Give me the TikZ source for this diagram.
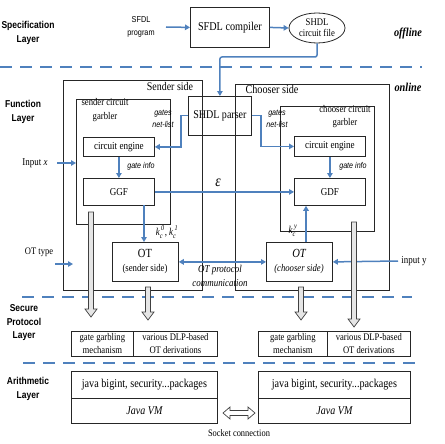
\documentclass[tikz,border=0pt]{standalone}
\usepackage{fontspec}
\usepackage{amsmath}
\setmainfont{Liberation Serif}[FakeStretch=0.85]
\setsansfont{Liberation Sans}[FakeStretch=0.85]
\usetikzlibrary{arrows.meta,shapes.geometric}
\definecolor{lblue}{RGB}{79,129,189}
\newcommand\fsz[2]{\fontsize{#1}{#2}\selectfont}
\newcommand\hdown[3]{\draw[harr] ({#1-2.5},#2) -- ({#1+2.5},#2) -- ({#1+2.5},{#3-8}) -- ({#1+6},{#3-8}) -- (#1,#3) -- ({#1-6},{#3-8}) -- ({#1-2.5},{#3-8}) -- cycle;}
\begin{document}
\begin{tikzpicture}[x=1pt,y=-1pt,
  box/.style={draw=black!85, line width=0.8pt, anchor=north west, inner sep=0pt},
  txt/.style={inner sep=0pt, align=center},
  layer/.style={txt, font=\sffamily\bfseries\fsz{10}{13.5}},
  barrow/.style={draw=lblue, line width=1.5pt, -{Triangle[length=5pt,width=5.5pt]}},
  bbarrow/.style={draw=lblue, line width=1.5pt, {Triangle[length=5pt,width=5.5pt]}-{Triangle[length=5pt,width=5.5pt]}},
  dline/.style={draw=lblue, line width=2pt, dash pattern=on 12pt off 8pt},
  harr/.style={draw=black!75, fill=black!10, line width=0.7pt},
  smlab/.style={txt, font=\sffamily\itshape\fsz{8.4}{11.5}}]
\useasboundingbox (0,0) rectangle (444,444);

% layer labels
\node[layer] (Lspec) at (28,33) {Specification\\Layer};
\node[layer] (Lfun) at (23,112) {Function\\Layer};
\node[layer] (Lsec) at (24,323) {Secure\\Protocol\\Layer};
\node[layer] (Larith) at (28,389) {Arithmetic\\Layer};

% dashed separators
\coordinate (d1a) at (0,67);   \coordinate (d1b) at (422,67);
\coordinate (d2a) at (22,297); \coordinate (d2b) at (412,297);
\coordinate (d3a) at (23,363); \coordinate (d3b) at (422,363);
\draw[dline] (d1a) -- (d1b);
\draw[dline] (d2a) -- (d2b);
\draw[dline] (d3a) -- (d3b);

% specification layer
\node[txt, font=\sffamily\fsz{8.6}{13}] (sfdlp) at (141,27) {SFDL\\program};
\node[box, minimum width=79pt, minimum height=40pt, font=\fsz{12}{14}] (comp) at (190,7) {SFDL compiler};
\node[draw=black!85, line width=0.8pt, ellipse, minimum width=56pt, minimum height=30pt, inner sep=0pt, align=center, font=\fsz{10.2}{11}] (shdl) at (317,28) {SHDL\\circuit file};
\node[txt, font=\bfseries\itshape\fsz{12.1}{14}] (offl) at (408,34) {offline};
\node[txt, font=\bfseries\itshape\fsz{12.1}{14}] (onl) at (408,87) {online};
\coordinate (a1) at (166,27);
\draw[barrow] (a1) -- (comp.west);
\draw[barrow] (comp.east) -- (shdl.west);

% function layer boxes
\node[box, minimum width=139pt, minimum height=210pt] (sender) at (63,80) {};
\node[box, minimum width=154pt, minimum height=206pt] (chooser) at (235,84) {};
\node[txt, font=\fsz{11.7}{14}] (sendlab) at (170,86) {Sender side};
\node[txt, font=\fsz{12}{14}] (choolab) at (272,89) {Chooser side};
\node[box, minimum width=63pt, minimum height=39pt, font=\fsz{11.8}{14}] (parser) at (188,96) {SHDL parser};
\node[box, minimum width=94pt, minimum height=125pt] (sgarb) at (76,99) {};
\node[box, minimum width=94pt, minimum height=125pt] (cgarb) at (280,106) {};
\node[txt, font=\fsz{10.2}{14}] (sgarblab) at (105,110) {sender circuit\\garbler};
\node[txt, font=\fsz{10.2}{13}] (cgarblab) at (345,116.5) {chooser circuit\\garbler};
\node[box, minimum width=71pt, minimum height=19pt, font=\fsz{10.7}{12}] (sce) at (83,137) {circuit engine};
\node[box, minimum width=71pt, minimum height=20pt, font=\fsz{10.7}{12}] (cce) at (294,136) {circuit engine};
\node[box, minimum width=71pt, minimum height=27pt, font=\fsz{10.6}{12}] (ggf) at (83,178) {GGF};
\node[box, minimum width=71pt, minimum height=27pt, font=\fsz{10.6}{12}] (gdf) at (294,178) {GDF};
\node[box, minimum width=66pt, minimum height=39pt] (ots) at (112,242) {};
\node[box, minimum width=66pt, minimum height=39pt] (otc) at (266,242) {};
\node[txt, font=\fsz{12.4}{14}] (otst) at (145,253) {OT};
\node[txt, font=\fsz{10.3}{12}] (otss) at (145,269) {(sender side)};
\node[txt, font=\itshape\fsz{12.4}{14}] (otct) at (299,253) {OT};
\node[txt, font=\itshape\fsz{10.2}{12}] (otcs) at (299,269) {(chooser side)};

% small labels
\node[smlab] (gns) at (163,119) {gates\\net-list};
\node[smlab] (gnc) at (277,119) {gates\\net-list};
\node[smlab] (gis) at (141,166) {gate info};
\node[smlab] (gic) at (353,166) {gate info};
\node[txt, font=\fsz{10.5}{12}] (kso) at (167,232) {$\textit{k}_{\textit{c}}^{\,\textit{0}}$, $\textit{k}_{\textit{c}}^{\,\textit{1}}$};
\node[txt, font=\fsz{10.5}{12}] (kco) at (293,231) {$\textit{k}_{\textit{c}}^{\,\textit{y}}$};
\node[txt, font=\itshape\fsz{10.5}{14}] (otpc) at (220,276) {OT protocol\\communication};
\node[txt, font=\itshape\fsz{16}{16}] (eps) at (218,183) {ε};
\node[txt, font=\fsz{10.5}{12}] (inx) at (35,163) {Input \textit{x}};
\node[txt, font=\fsz{10}{12}] (ottype) at (39,252) {OT type};
\node[txt, font=\fsz{10.5}{12}] (iny) at (414,261) {input y};

% blue connectors
\coordinate (m57) at (0,57);
\draw[barrow, rounded corners=2pt] (shdl.south) -- (shdl.south |- m57) -- (parser.north |- m57) -- (parser.north);
\coordinate (pl) at (181,115.5);
\coordinate (pr) at (261,115.5);
\draw[barrow] (parser.west |- pl) -- (pl) |- (sce.east);
\draw[barrow] (parser.east |- pr) -- (pr) |- (cce.west);
\draw[barrow] (sce.south) -- (ggf.north);
\draw[barrow] (cce.south) -- (gdf.north);
\draw[barrow] (ggf.east) -- (gdf.west);
\coordinate (gs) at (144,205);
\draw[barrow] (gs) -- (gs |- ots.north);
\coordinate (oc) at (306,242);
\draw[barrow] (oc) -- (oc |- gdf.south);
\draw[bbarrow] (ots.east) -- (otc.west);
\coordinate (ix) at (57,163);
\draw[barrow] (ix) -- (sgarb.west |- ix);
\coordinate (ot1) at (55,264); \coordinate (ot2) at (73,264);
\draw[barrow] (ot1) -- (ot2);
\coordinate (iy) at (398,261);
\draw[barrow] (iy) -- (otc.east);

% secure protocol layer
\node[box, minimum width=62pt, minimum height=25pt, align=center, font=\fsz{10.2}{13}] (lsa) at (71,331) {gate garbling\\mechanism};
\node[box, minimum width=84pt, minimum height=25pt, align=center, font=\fsz{10.1}{13}] (lsb) at (133,331) {various DLP-based\\OT derivations};
\node[box, minimum width=69pt, minimum height=25pt, align=center, font=\fsz{10.2}{13}] (rsa) at (258,331) {gate garbling\\mechanism};
\node[box, minimum width=83pt, minimum height=25pt, align=center, font=\fsz{10.1}{13}] (rsb) at (327,331) {various DLP-based\\OT derivations};

% arithmetic layer
\node[box, minimum width=146pt, minimum height=27pt, font=\fsz{12}{14}] (laj) at (71,371) {java bigint, security...packages};
\node[box, minimum width=146pt, minimum height=25pt, font=\itshape\fsz{11.8}{14}] (lav) at (71,398) {Java VM};
\node[box, minimum width=152pt, minimum height=27pt, font=\fsz{12}{14}] (raj) at (258,371) {java bigint, security...packages};
\node[box, minimum width=152pt, minimum height=25pt, font=\itshape\fsz{11.8}{14}] (rav) at (258,398) {Java VM};
\node[txt, font=\fsz{9.9}{12}] (sock) at (239,433) {Socket connection};

% hollow arrows
\hdown{91}{212}{317}
\hdown{148}{287}{320}
\hdown{301}{287}{320}
\hdown{354}{222}{327}
\draw[harr, fill=white] (223,413) -- (230,407) -- (230,410.5) -- (248,410.5) -- (248,407) -- (255,413) -- (248,419) -- (248,415.5) -- (230,415.5) -- (230,419) -- cycle;
\end{tikzpicture}
\end{document}
